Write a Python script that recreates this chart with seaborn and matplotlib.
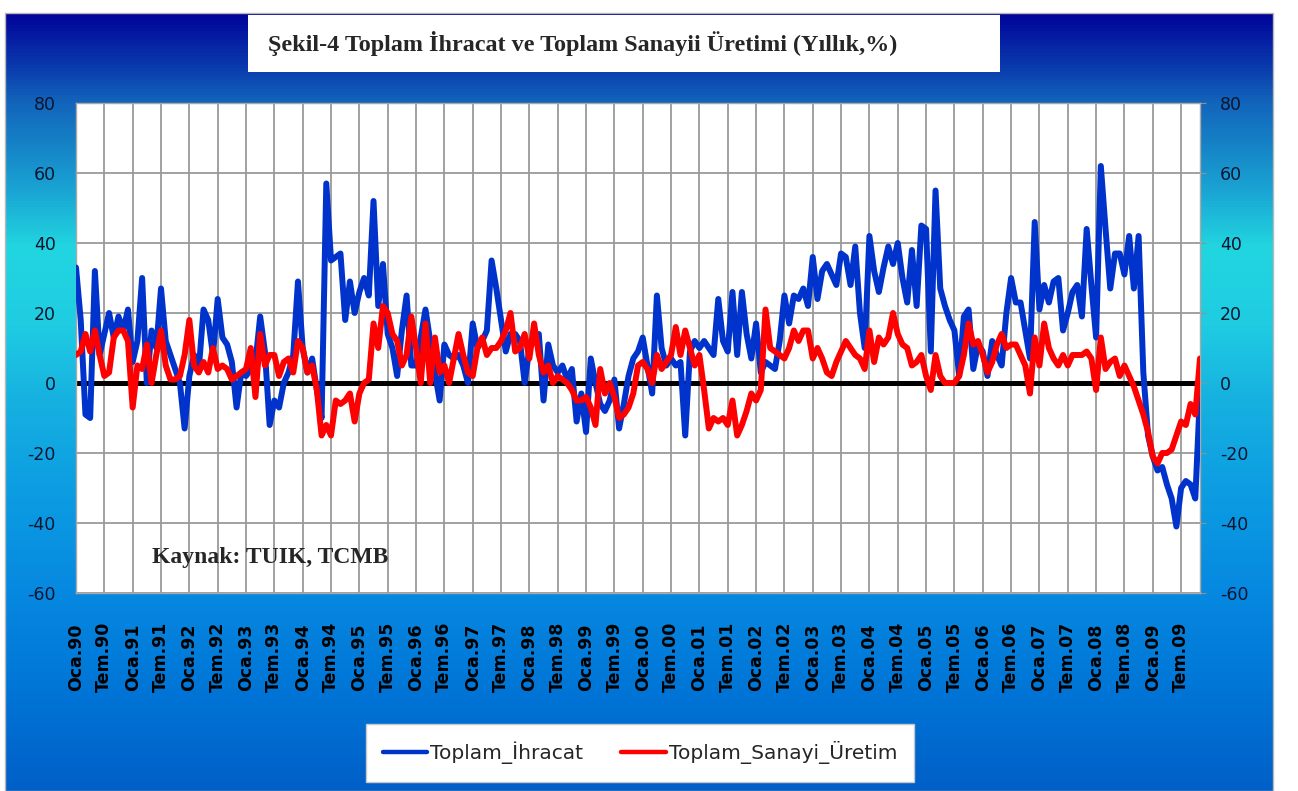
# Sekil-4: Toplam Ihracat ve Toplam Sanayi Uretimi (yillik %, aylik seri)

import numpy as np
import pandas as pd
import matplotlib
matplotlib.use("Agg")
import matplotlib.pyplot as plt
from matplotlib.colors import LinearSegmentedColormap
from matplotlib.patches import Rectangle
import seaborn as sns

sns.set_style("white")
plt.rcParams['font.family'] = ['DejaVu Sans']

# DATA (Oca.90 - Kas.09)
ihracat = [33, 18, -9, -10, 32, 8, 14, 20, 13, 19, 15, 21,
           6, 12, 30, 0, 15, 10, 27, 12, 8, 4, 0, -13,
           2, 8, 4, 21, 18, 8, 24, 13, 11, 6, -7, 3,
           2, 4, 6, 19, 9, -12, -5, -7, 0, 3, 8, 29,
           10, 3, 7, -2, -10, 57, 35, 36, 37, 18, 29, 20,
           26, 30, 25, 52, 22, 34, 14, 10, 2, 15, 25, 5,
           5, 13, 21, 12, 3, -5, 11, 8, 7, 8, 5, 0,
           17, 10, 12, 15, 35, 27, 18, 9, 14, 14, 12, 0,
           10, 12, 14, -5, 11, 5, 3, 5, 1, 4, -11, -3,
           -14, 7, 0, -6, -8, -5, 1, -13, -6, 2, 7, 9,
           13, 5, -3, 25, 10, 5, 7, 5, 6, -15, 9, 12,
           10, 12, 10, 8, 24, 12, 9, 26, 8, 26, 14, 7,
           17, 3, 6, 5, 4, 12, 25, 17, 25, 24, 27, 22,
           36, 24, 32, 34, 31, 28, 37, 36, 28, 39, 20, 10,
           42, 32, 26, 33, 39, 34, 40, 30, 23, 38, 22, 45,
           44, 9, 55, 27, 22, 18, 15, 2, 19, 21, 4, 11,
           9, 2, 12, 8, 5, 20, 30, 23, 23, 15, 7, 46,
           21, 28, 23, 29, 30, 15, 20, 26, 28, 19, 44, 28,
           13, 62, 44, 27, 37, 37, 31, 42, 27, 42, 3, -15,
           -21, -25, -24, -29, -33, -41, -30, -28, -29, -33, -3]

sanayi = [8, 9, 14, 9, 15, 8, 2, 3, 13, 15, 15, 12,
          -7, 5, 4, 11, 0, 8, 15, 5, 1, 1, 2, 8,
          18, 5, 3, 6, 3, 10, 4, 5, 4, 1, 2, 3,
          4, 10, -4, 14, 5, 8, 8, 2, 6, 7, 3, 12,
          10, 3, 5, -2, -15, -12, -15, -5, -6, -5, -3, -11,
          -3, 0, 1, 17, 10, 22, 20, 14, 12, 5, 8, 19,
          10, 0, 17, 0, 13, 3, 5, 0, 7, 14, 8, 3,
          2, 10, 13, 8, 10, 10, 12, 15, 20, 9, 10, 14,
          7, 17, 8, 3, 5, 0, 2, 1, 0, -2, -5, -5,
          -4, -7, -12, 4, -3, 0, -4, -10, -9, -7, -3, 5,
          6, 4, 0, 8, 4, 6, 8, 16, 8, 15, 10, 5,
          8, -2, -13, -10, -11, -10, -12, -5, -15, -12, -8, -3,
          -5, -2, 21, 10, 9, 8, 7, 10, 15, 12, 15, 15,
          7, 10, 7, 3, 2, 6, 9, 12, 10, 8, 7, 4,
          15, 6, 13, 11, 13, 20, 14, 11, 10, 5, 6, 8,
          2, -2, 8, 2, 0, 0, 0, 2, 8, 17, 11, 12,
          8, 3, 6, 11, 14, 10, 11, 11, 8, 5, -3, 13,
          5, 17, 10, 7, 5, 8, 5, 8, 8, 8, 9, 7,
          -2, 13, 4, 6, 7, 2, 5, 2, -1, -5, -9, -14,
          -21, -23, -20, -20, -19, -15, -11, -12, -6, -9, 7]

yillar = ['90', '91', '92', '93', '94', '95', '96', '97', '98', '99',
          '00', '01', '02', '03', '04', '05', '06', '07', '08', '09']
tick_labels = [ay + "." + y for y in yillar for ay in ("Oca", "Tem")]
y_ticks = [-60, -40, -20, 0, 20, 40, 60, 80]

df = pd.DataFrame({'ay': np.arange(len(ihracat)),
                   'Toplam_İhracat': ihracat,
                   'Toplam_Sanayi_Üretim': sanayi})

W, H = 1298, 791
fig = plt.figure(figsize=(W / 100, H / 100), dpi=100)
fig.patch.set_facecolor('white')

# gradient background (navy -> cyan -> blue)
stops = [(0.0, '#02049A'), (0.07, '#0A3DAE'), (0.11, '#1262BA'), (0.23, '#1AA6D4'),
         (0.30, '#22D6E0'), (0.40, '#1FCCE2'), (0.50, '#16B0E0'), (0.62, '#0C9CE2'),
         (0.75, '#0688E0'), (0.88, '#0074D6'), (1.0, '#005FC8')]
cmap = LinearSegmentedColormap.from_list('bg', stops)
bg = fig.add_axes([5 / W, 0, (1273 - 5) / W, 1 - 13 / H], zorder=0)
bg.imshow(np.linspace(0, 1, 256).reshape(-1, 1), cmap=cmap, aspect='auto', extent=[0, 1, 0, 1])
bg.axis('off')
fig.patches.append(Rectangle((5 / W, 0), (1273 - 5) / W, 1 - 13 / H, transform=fig.transFigure,
                             facecolor='none', edgecolor='#B8B8B8', lw=1, zorder=1))

# title box
fig.patches.append(Rectangle((248 / W, 1 - 72 / H), (1000 - 248) / W, (72 - 15) / H,
                             transform=fig.transFigure, facecolor='white', edgecolor='none', zorder=1))
fig.text(268 / W, 1 - 43 / H, "Şekil-4 Toplam İhracat ve Toplam Sanayii Üretimi (Yıllık,%)",
         family='Liberation Serif', fontweight='bold', fontsize=17.4, ha='left', va='center', zorder=3)

# main plot
ax = fig.add_axes([76 / W, 1 - 593 / H, 1124 / W, 490 / H], zorder=2)
ax.set_facecolor('white')

ax.axhline(0, color='black', lw=3.6, zorder=2)
sns.lineplot(data=df, x='ay', y='Toplam_İhracat', color='#0033CC', lw=4.3,
             label='Toplam_İhracat', ax=ax, zorder=3)
sns.lineplot(data=df, x='ay', y='Toplam_Sanayi_Üretim', color='#FF0000', lw=4.3,
             label='Toplam_Sanayi_Üretim', ax=ax, zorder=4)
handles, labels = ax.get_legend_handles_labels()
ax.get_legend().remove()

ax.set_xlim(0, len(ihracat) - 1)
ax.set_ylim(-60, 80)
ax.set_xticks(np.arange(len(tick_labels)) * 6)
ax.set_xticklabels(tick_labels, rotation=90, fontweight='bold', fontsize=12.5, va='center')
ax.set_yticks(y_ticks)
ax.set_yticklabels([str(v) for v in y_ticks])
ax.set_xlabel('')
ax.set_ylabel('')

ax.grid(True, color='#9A9A9A', lw=1.3)
ax.set_axisbelow(True)
for s in ax.spines.values():
    s.set_color('#A8A8A8')
    s.set_linewidth(1)

ax.tick_params(axis='x', length=0, pad=46, colors='black')
ax.tick_params(axis='y', left=False, right=True, labelleft=True, labelright=True,
               length=4.5, pad=10, labelsize=12.5, color='#909090', labelcolor='#0B1530')

ax.text((152 - 76) / 1124, (593 - 557) / 490, "Kaynak: TUIK, TCMB", transform=ax.transAxes,
        family='Liberation Serif', fontweight='bold', fontsize=17, ha='left', va='center', zorder=5)

# legend
leg = fig.legend(handles, labels, loc='center', bbox_to_anchor=(640 / W, 1 - 753 / H), ncol=2,
                 frameon=True, fancybox=False, edgecolor='#C8C8C8', facecolor='white', framealpha=1,
                 fontsize=14.5, handlelength=2.2, handletextpad=0.15, columnspacing=1.9, borderpad=0.85)
for line in leg.get_lines():
    line.set_linewidth(3.2)

plt.savefig('out.png', dpi=100, facecolor=fig.get_facecolor())
plt.close()
